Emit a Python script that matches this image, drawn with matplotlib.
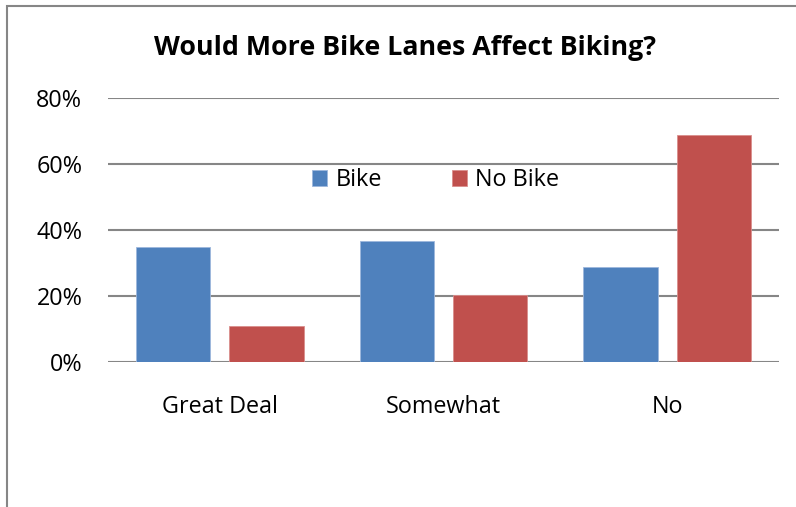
import matplotlib
matplotlib.use("Agg")
import matplotlib.pyplot as plt
from matplotlib.patches import Rectangle
import numpy as np

categories = ["Great Deal", "Somewhat", "No"]
bike = [0.348, 0.366, 0.287]
no_bike = [0.109, 0.202, 0.689]
series_names = ["Bike", "No Bike"]
yticks = [0.0, 0.2, 0.4, 0.6, 0.8]
ytick_labels = ["0%", "20%", "40%", "60%", "80%"]
title = "Would More Bike Lanes Affect Biking?"

plt.rcParams["font.family"] = ["Open Sans", "DejaVu Sans"]

W, H = 796, 507
fig = plt.figure(figsize=(W / 100, H / 100), dpi=100)

# chart-area border (only the top and left edges fall inside the image)
fig.patches.append(Rectangle((7 / W, -0.5), 2, 1.5 - 5.5 / H, transform=fig.transFigure,
                             fill=False, edgecolor="#868686", linewidth=1.5))

ax = fig.add_axes([108 / W, 1 - 362 / H, (779 - 108) / W, (362 - 98) / H])

x = np.arange(len(categories))
bw = 0.333
off = 0.209
ax.bar(x - off, bike, bw, color="#4F81BD", edgecolor="#9DB7DC", linewidth=0.6,
       label=series_names[0], zorder=3)
ax.bar(x + off, no_bike, bw, color="#C0504D", edgecolor="#DA8F8D", linewidth=0.6,
       label=series_names[1], zorder=3)

ax.set_xlim(-0.5, len(categories) - 0.5)
ax.set_ylim(0, 0.8)
ax.set_yticks(yticks)
ax.set_yticklabels(ytick_labels)
ax.set_xticks(x)
ax.set_xticklabels(categories)
ax.tick_params(axis="both", length=0, labelsize=16.8, colors="black")
ax.tick_params(axis="y", pad=18.5)
ax.tick_params(axis="x", pad=24)
ax.grid(axis="y", color="#868686", linewidth=1.5, zorder=0)
for s in ax.spines.values():
    s.set_visible(False)

fig.text(0.5083, 1 - 48 / H, title, ha="center", va="center",
         fontsize=19.3, fontweight="bold")

leg = ax.legend(ncol=2, frameon=False, loc="center",
                bbox_to_anchor=((435.5 - 108) / (779 - 108), (362 - 180) / (362 - 98)),
                fontsize=16.8, handlelength=0.64, handleheight=0.64,
                handletextpad=0.34, columnspacing=3.0, borderpad=0)

fig.savefig("out.png", dpi=100)
